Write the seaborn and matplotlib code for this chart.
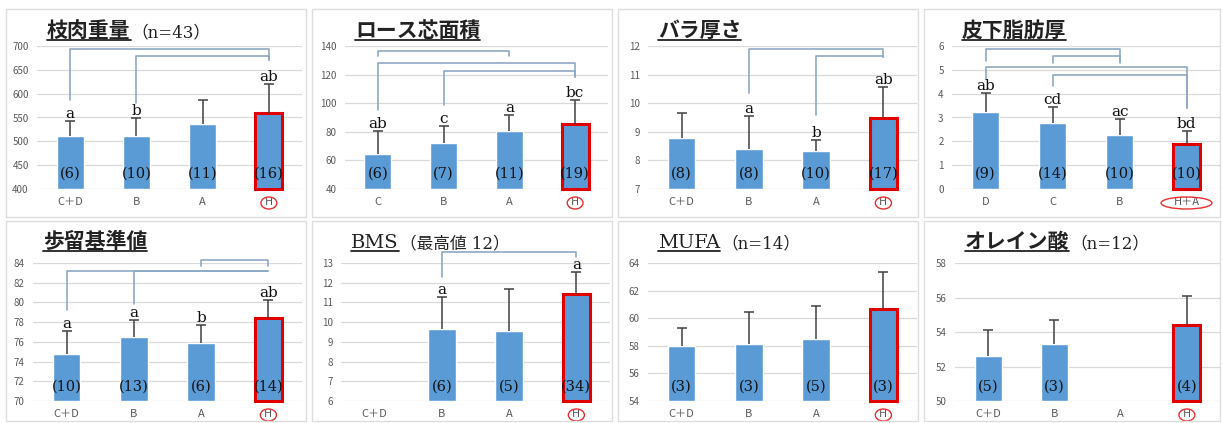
import numpy as np
import pandas as pd
import seaborn as sns
import matplotlib.pyplot as plt
from matplotlib.patches import Ellipse, Rectangle
from matplotlib.lines import Line2D
from matplotlib.transforms import blended_transform_factory

sns.set_theme(style="white")
plt.rcParams['font.family'] = ['Noto Sans CJK JP', 'DejaVu Sans']

nan = np.nan

# ---- categories
cats_cd = ['C＋D', 'B', 'A', 'H']
cats_loin = ['C', 'B', 'A', 'H']
cats_fat = ['D', 'C', 'B', 'H＋A']

# ---- 枝肉重量
carcass_mean = [512, 512, 537, 560]
carcass_err = [31, 37, 50, 60]
carcass_n = [6, 10, 11, 16]
carcass_sig = ['a', 'b', '', 'ab']
carcass_ticks = [400, 450, 500, 550, 600, 650, 700]
carcass_brackets = [(0, 3, 693, 587, 671), (1, 3, 679, 580, 671)]

# ---- ロース芯面積
loin_mean = [64.7, 72.4, 80.7, 85.5]
loin_err = [16.0, 12.0, 11.3, 16.5]
loin_n = [6, 7, 11, 19]
loin_sig = ['ab', 'c', 'a', 'bc']
loin_ticks = [40, 60, 80, 100, 120, 140]
loin_brackets = [(0, 2, 136.4, 132.7, 132.7), (0, 3, 128, 95.3, 118), (1, 3, 122.3, 98.8, 118)]

# ---- バラ厚さ
rib_mean = [8.77, 8.40, 8.34, 9.49]
rib_err = [0.87, 1.15, 0.39, 1.09]
rib_n = [8, 8, 10, 17]
rib_sig = ['', 'a', 'b', 'ab']
rib_ticks = [7, 8, 9, 10, 11, 12]
rib_brackets = [(1, 3, 11.9, 10.37, 11.62), (2, 3, 11.64, 9.6, 11.62)]

# ---- 皮下脂肪厚
fat_mean = [3.24, 2.76, 2.27, 1.89]
fat_err = [0.80, 0.70, 0.65, 0.55]
fat_n = [9, 14, 10, 10]
fat_sig = ['ab', 'cd', 'ac', 'bd']
fat_ticks = [0, 1, 2, 3, 4, 5, 6]
fat_brackets = [(0, 2, 5.88, 5.35, 5.35), (1, 2, 5.56, 5.3, 5.3),
                (0, 3, 5.13, 4.62, 3.39), (1, 3, 4.77, 4.33, 3.39)]

# ---- 歩留基準値
yield_mean = [74.78, 76.47, 75.86, 78.4]
yield_err = [2.37, 1.70, 1.87, 1.87]
yield_n = [10, 13, 6, 14]
yield_sig = ['a', 'a', 'b', 'ab']
yield_ticks = [70, 72, 74, 76, 78, 80, 82, 84]
yield_brackets = [(2, 3, 84.34, 83.73, 83.73), (0, 3, 83.15, 79.25, 83.15), (1, 3, 83.15, 79.8, 83.15)]

# ---- BMS
bms_mean = [nan, 9.64, 9.56, 11.45]
bms_err = [nan, 1.64, 2.11, 1.08]
bms_n = [None, 6, 5, 34]
bms_sig = ['', 'a', '', 'a']
bms_ticks = [6, 7, 8, 9, 10, 11, 12, 13]
bms_brackets = [(1, 3, 13.56, 12.3, 13.3)]

# ---- MUFA
mufa_mean = [58.02, 58.14, 58.48, 60.66]
mufa_err = [1.26, 2.28, 2.42, 2.66]
mufa_n = [3, 3, 5, 3]
mufa_sig = ['', '', '', '']
mufa_ticks = [54, 56, 58, 60, 62, 64]

# ---- オレイン酸
oleic_mean = [52.63, 53.29, nan, 54.38]
oleic_err = [1.46, 1.38, nan, 1.69]
oleic_n = [5, 3, None, 4]
oleic_sig = ['', '', '', '']
oleic_ticks = [50, 52, 54, 56, 58]

panels = [
    ('枝肉重量', '（n=43）', False, cats_cd, carcass_mean, carcass_err, carcass_n, carcass_sig, carcass_ticks, carcass_brackets),
    ('ロース芯面積', '', False, cats_loin, loin_mean, loin_err, loin_n, loin_sig, loin_ticks, loin_brackets),
    ('バラ厚さ', '', False, cats_cd, rib_mean, rib_err, rib_n, rib_sig, rib_ticks, rib_brackets),
    ('皮下脂肪厚', '', False, cats_fat, fat_mean, fat_err, fat_n, fat_sig, fat_ticks, fat_brackets),
    ('歩留基準値', '', False, cats_cd, yield_mean, yield_err, yield_n, yield_sig, yield_ticks, yield_brackets),
    ('BMS', '（最高値 12）', True, cats_cd, bms_mean, bms_err, bms_n, bms_sig, bms_ticks, bms_brackets),
    ('MUFA', '（n=14）', True, cats_cd, mufa_mean, mufa_err, mufa_n, mufa_sig, mufa_ticks, []),
    ('オレイン酸', '（n=12）', False, cats_cd, oleic_mean, oleic_err, oleic_n, oleic_sig, oleic_ticks, []),
]

BLUE = '#5B9BD5'
RED = '#E00000'
BRACKET = '#8DA9C4'
GRID = '#D9D9D9'
TICK = '#595959'
SERIF = ['DejaVu Serif', 'Noto Sans CJK JP']

W, H = 1222, 423
fig = plt.figure(figsize=(W / 100, H / 100), dpi=100)

# axes rectangles in pixels
rows = [(46, 189), (263, 401)]
cols = [[(37, 302), (345, 608), (648, 917), (952, 1220)],
        [(33, 302), (341, 610), (648, 917), (955, 1220)]]
boxes_x = [(6, 306), (312, 612), (618, 918), (924, 1220)]
boxes_y = [(9, 217), (221, 421)]

# panel frames
for (by0, by1) in boxes_y:
    for (bx0, bx1) in boxes_x:
        fig.patches.append(Rectangle((bx0 / W, 1 - by1 / H), (bx1 - bx0) / W, (by1 - by0) / H,
                                     transform=fig.transFigure, fill=False,
                                     edgecolor='#DDDDDD', lw=1))

for k, (title, sub, latin, cats, mean, err, n, sig, ticks, brackets) in enumerate(panels):
    r, c = divmod(k, 4)
    top, bot = rows[r]
    left, right = cols[r][c]
    ax = fig.add_axes([left / W, 1 - bot / H, (right - left) / W, (bot - top) / H])
    ymin, ymax = ticks[0], ticks[-1]

    df = pd.DataFrame({'cat': cats, 'val': mean})
    sns.barplot(data=df, x='cat', y='val', order=cats, color=BLUE, saturation=1,
                width=0.41, errorbar=None, ax=ax, zorder=2)

    # bars start at the axis floor, H bar outlined in red
    for p in ax.patches:
        i = int(round(p.get_x() + p.get_width() / 2))
        top_val = p.get_y() + p.get_height()
        p.set_y(ymin)
        p.set_height(top_val - ymin)
        if i == 3:
            p.set_edgecolor(RED)
            p.set_linewidth(2.2)
            p.set_clip_on(False)

    # upper-only error bars with a cap
    x = np.arange(len(cats))
    m = np.array(mean, dtype=float)
    e = np.array(err, dtype=float)
    ok = ~np.isnan(m)
    ax.vlines(x[ok], m[ok], m[ok] + e[ok], color='#404040', lw=1.1, zorder=3)
    ax.plot(x[ok], m[ok] + e[ok], ls='none', marker='_', ms=7, mew=1.1,
            color='#404040', zorder=3, clip_on=False)

    for i in range(len(cats)):
        if n[i] is not None:
            ax.text(i, ymin + 0.105 * (ymax - ymin), f'({n[i]})', ha='center', va='center',
                    fontsize=10.5, family=SERIF, color='#111111', zorder=4)
        if sig[i]:
            ax.annotate(sig[i], (i, m[i] + e[i]), xytext=(0, 0), textcoords='offset points',
                        ha='center', va='bottom', fontsize=11, family=SERIF,
                        color='#111111', annotation_clip=False)

    for i, j, yh, yl, yr in brackets:
        ax.plot([i, i, j, j], [yl, yh, yh, yr], color=BRACKET, lw=1.2,
                clip_on=False, zorder=1)

    ax.set_xlim(-0.5, 3.5)
    ax.set_ylim(ymin, ymax)
    ax.set_yticks(ticks)
    ax.set_xlabel('')
    ax.set_ylabel('')
    ax.grid(axis='y', color=GRID, lw=0.9)
    ax.grid(axis='x', visible=False)
    ax.set_axisbelow(True)
    sns.despine(ax=ax, left=True, bottom=True)
    ax.tick_params(axis='y', length=0, labelsize=7, labelcolor=TICK, pad=6)
    ax.tick_params(axis='x', length=0, labelsize=8, labelcolor=TICK, pad=6)

    # red circle around the H category label
    tr = blended_transform_factory(ax.transData, ax.transAxes)
    hpx = bot - top
    ew = 0.76 if cats[3] == 'H＋A' else 0.24
    ax.add_patch(Ellipse((3, -14 / hpx), ew, 12 / hpx, transform=tr, fill=False,
                         edgecolor='#E53030', lw=1, clip_on=False))

# titles with underline
fig.canvas.draw()
renderer = fig.canvas.get_renderer()
for k, (title, sub, latin, *_rest) in enumerate(panels):
    r, c = divmod(k, 4)
    base = [37, 248][r]
    left = cols[r][c][0] + 10
    if latin:
        t = fig.text(left / W, 1 - base / H, title, fontsize=14, family=SERIF,
                     color='#222222', va='baseline')
    else:
        t = fig.text(left / W, 1 - base / H, title, fontsize=15, family='Noto Sans CJK JP',
                     weight='bold', color='#222222', va='baseline')
    bb = t.get_window_extent(renderer)
    uy = 1 - (base + 3) / H
    fig.add_artist(Line2D([bb.x0 / W, bb.x1 / W], [uy, uy], transform=fig.transFigure,
                          color='#222222', lw=1.3))
    if sub:
        fig.text((bb.x1 + 1) / W, 1 - base / H, sub, fontsize=12, family=SERIF,
                 color='#222222', va='baseline')

fig.savefig('out.png', dpi=100)
